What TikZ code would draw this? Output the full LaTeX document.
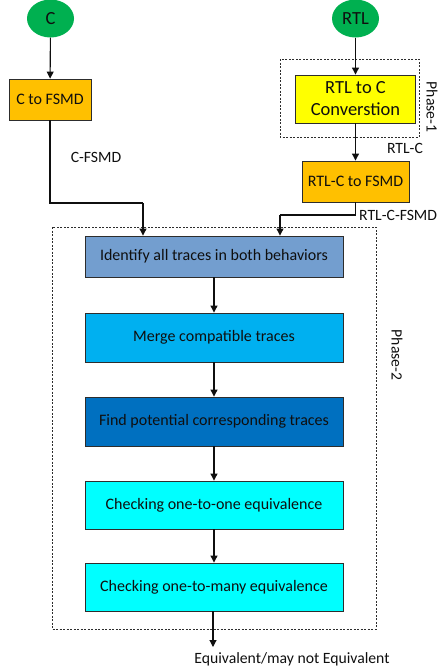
\documentclass[tikz,border=0pt]{standalone}
\usepackage{fontspec}
\setmainfont{Carlito}
\usetikzlibrary{arrows.meta,shapes.geometric}
\definecolor{startgreen}{RGB}{0,176,80}
\definecolor{boxorange}{RGB}{255,192,0}
\definecolor{boxyellow}{RGB}{255,255,0}
\definecolor{steel}{RGB}{115,158,207}
\definecolor{sky}{RGB}{0,176,240}
\definecolor{deepblue}{RGB}{0,112,192}
\definecolor{aqua}{RGB}{0,255,255}
\definecolor{edge}{RGB}{45,45,45}
\definecolor{ink}{RGB}{15,15,15}
\tikzset{
  startnode/.style={ellipse,fill=startgreen,draw=none,minimum width=47pt,minimum height=38pt,inner sep=0pt,font=\fontsize{18.5}{20}\selectfont,text=ink},
  procbox/.style={rectangle,draw=edge,line width=0.9pt,inner sep=0pt,text=ink,align=center},
  flowbox/.style={procbox,minimum width=258pt,font=\fontsize{16}{18}\selectfont},
  phasebox/.style={draw=edge,line width=0.6pt,dash pattern=on 2pt off 1.5pt},
  arr/.style={draw=ink,line width=1.1pt,-{Triangle[length=7pt,width=7pt]}},
  wire/.style={draw=ink,line width=1.1pt},
  lbl/.style={text=ink,font=\fontsize{15.7}{18}\selectfont,inner sep=0pt}
}
\begin{document}
\begin{tikzpicture}[x=1pt,y=-1pt]
\useasboundingbox (0,0) rectangle (438,672);

% phase frames
\draw[phasebox] (280,59) rectangle (419,137);
\draw[phasebox] (52,227) rectangle (376,629);
\node[lbl,rotate=-90] (ph1) at (432,107) {Phase-1};
\node[lbl,rotate=-90] (ph2) at (397,355) {Phase-2};

% inputs
\node[startnode] (c) at (50.5,18.5) {C};
\node[startnode] (rtl) at (355.5,18.5) {RTL};

% front-end conversions
\node[procbox,fill=boxorange,minimum width=82pt,minimum height=41pt,font=\fontsize{16}{18}\selectfont] (cfsmd) at (50,99.5) {C to FSMD};
\node[procbox,fill=boxyellow,minimum width=120pt,minimum height=48pt,font=\fontsize{18.5}{22}\selectfont] (rtlc) at (355.5,99) {RTL to C\\Converstion};
\node[procbox,fill=boxorange,minimum width=107pt,minimum height=41pt,font=\fontsize{16}{18}\selectfont] (rtlfsmd) at (355.5,181.5) {RTL-C to FSMD};

% equivalence checking steps
\node[flowbox,fill=steel,minimum height=41pt] (ident) at (214,256.5) {Identify all traces in both behaviors};
\node[flowbox,fill=sky,minimum height=49pt] (merge) at (214,337.5) {Merge compatible traces};
\node[flowbox,fill=deepblue,minimum height=49pt] (find) at (214,421.5) {Find potential corresponding traces};
\node[flowbox,fill=aqua,minimum height=48pt] (one) at (214,505) {Checking one-to-one equivalence};
\node[flowbox,fill=aqua,minimum height=48pt] (many) at (214,587) {Checking one-to-many equivalence};

% connectors
\draw[arr] (c) -- (cfsmd);
\draw[arr] (rtl) -- (rtlc);
\draw[arr] (rtlc) -- (rtlfsmd);

\coordinate (j1) at (143,203);
\draw[wire] (cfsmd.south) |- (j1);
\draw[arr] (j1) -- (j1 |- ident.north);
\coordinate (j2) at (280,215);
\draw[wire] (rtlfsmd.south) |- (j2);
\draw[arr] (j2) -- (j2 |- ident.north);

\draw[arr] (ident) -- (merge);
\draw[arr] (merge) -- (find);
\draw[arr] (find) -- (one);
\draw[arr] (one) -- (many);
\coordinate (out) at (213,647);
\draw[arr] (many.south -| out) -- (out);

% edge labels
\node[lbl] (lc) at (96,157) {C-FSMD};
\node[lbl] (lr) at (405,148) {RTL-C};
\node[lbl,anchor=west] (lrf) at (359,215) {RTL-C-FSMD};
\node[lbl] (res) at (292,659) {Equivalent/may not Equivalent};
\end{tikzpicture}
\end{document}
